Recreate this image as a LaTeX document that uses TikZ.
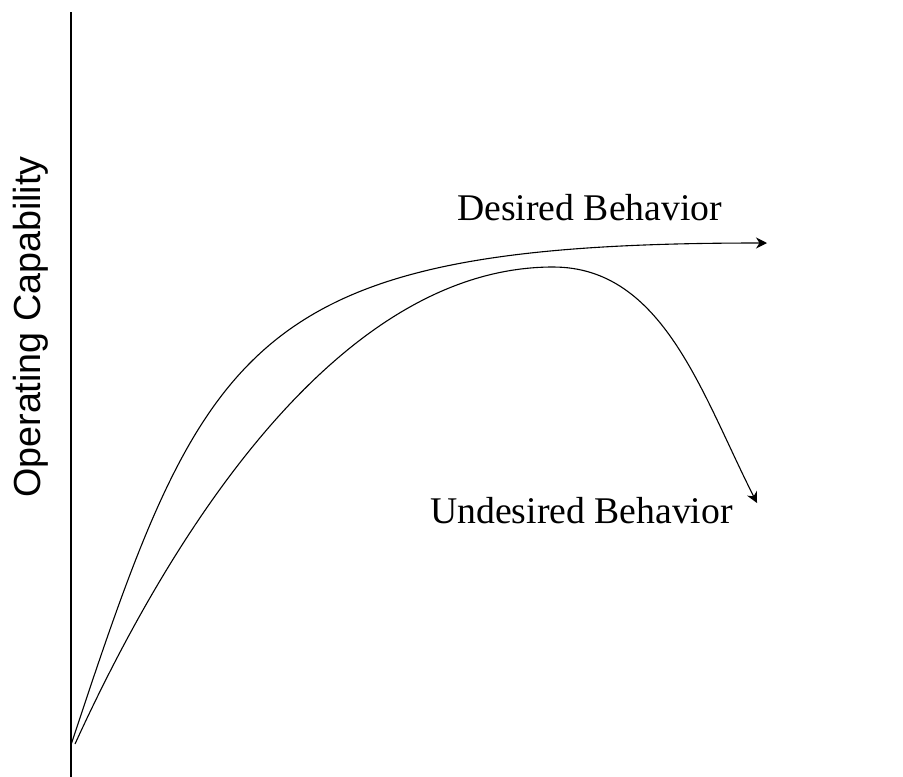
\documentclass[tikz,border=0pt]{standalone}
\usepackage{fontspec}
\setmainfont{Liberation Serif}
\newfontfamily\arialfont{Liberation Sans}
\usetikzlibrary{arrows.meta}
\begin{document}
\begin{tikzpicture}[x=1pt,y=-1pt,
  curve/.style={line width=1.1pt, -{Stealth[length=11pt,width=11pt,inset=3.5pt]}},
  axisline/.style={line width=1.4pt},
  lbl/.style={font=\fontsize{37.7}{40}\selectfont, inner sep=0pt, anchor=base west},
  axislbl/.style={font=\arialfont\fontsize{37.7}{40}\selectfont, inner sep=0pt, anchor=base, rotate=90}]
\useasboundingbox (0,0) rectangle (903,777);
\coordinate (axtop) at (71,12);
\coordinate (axbot) at (71,777);
\coordinate (o1) at (71,745);
\coordinate (o2) at (75,744);
\coordinate (dtip) at (767,243);
\coordinate (peak) at (553,267);
\coordinate (utip) at (757,503);
\draw[axisline] (axtop) -- (axbot);
\draw[curve] (o1) .. controls (205,339) and (247,243) .. (dtip);
\draw[curve] (o2) .. controls (187,499) and (353,267) .. (peak) .. controls (663,267) and (701.5,393.5) .. (utip);
\node[lbl] (des) at (457,220) {Desired Behavior};
\node[lbl] (undes) at (430,523) {Undesired Behavior};
\node[axislbl] (ylab) at (40,327) {Operating Capability};
\end{tikzpicture}
\end{document}
